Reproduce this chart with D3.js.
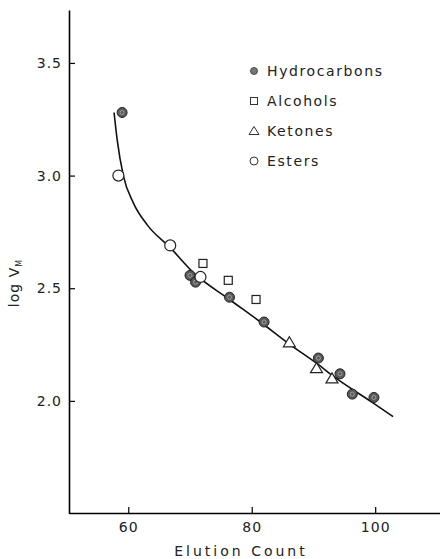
<!DOCTYPE html>
<html>
<head>
<meta charset="utf-8">
<script src="https://cdn.jsdelivr.net/npm/d3@7"></script>
<style>
  body { margin: 0; background: #fff; }
  text { font-family: "DejaVu Sans", sans-serif; fill: #222; }
</style>
</head>
<body>
<svg width="440" height="559"></svg>
<script>
// elution count, log V_M
let hydrocarbons = [[59.0, 3.28], [70.0, 2.557], [70.9, 2.527], [76.4, 2.46], [82.0, 2.35],
                    [90.8, 2.19], [94.3, 2.12], [96.3, 2.03], [99.8, 2.015]];
let alcohols = [[72.1, 2.61], [76.2, 2.535], [80.7, 2.45]];
let ketones = [[86.1, 2.26], [90.5, 2.145], [93.0, 2.10]];
let esters = [[58.4, 3.0], [66.8, 2.69], [71.7, 2.55]];
let fitCurve = [[57.7, 3.28], [58.2, 3.16], [59.2, 3.0], [60.8, 2.88], [63.1, 2.78], [66.8, 2.68],
                [70.5, 2.57], [76.4, 2.45], [81.4, 2.35], [86.2, 2.25], [90.6, 2.165],
                [93.2, 2.11], [99.7, 1.99], [102.9, 1.93]];
let xTicks = [60, 80, 100];
let yTicks = [2.0, 2.5, 3.0, 3.5];
let legendNames = ['Hydrocarbons', 'Alcohols', 'Ketones', 'Esters'];

var svg = d3.select('svg');

let x = d3.scaleLinear().domain([50.4, 110.5]).range([69, 440]);
let y = d3.scaleLinear().domain([1.5, 3.735]).range([513.5, 10]);

// axes
svg.append('g')
    .attr('transform', 'translate(0,513)')
    .call(d3.axisBottom(x).tickValues(xTicks).tickSizeInner(-6).tickSizeOuter(0).tickPadding(9))
    .call(g => g.select('.domain').attr('stroke-width', 1.6))
    .call(g => g.selectAll('.tick line').attr('stroke-width', 1.2))
    .call(g => g.selectAll('text').attr('font-size', 14).attr('letter-spacing', 1).style('fill', '#222'));

svg.append('g')
    .attr('transform', 'translate(69,0)')
    .call(d3.axisLeft(y).tickValues(yTicks).tickFormat(d3.format('.1f')).tickSizeInner(-6).tickSizeOuter(0).tickPadding(7))
    .call(g => g.select('.domain').attr('stroke-width', 1.6))
    .call(g => g.selectAll('.tick line').attr('stroke-width', 1.2))
    .call(g => g.selectAll('text').attr('font-size', 14).attr('letter-spacing', 1).style('fill', '#222'));

svg.append('text')
    .attr('x', 241).attr('y', 556)
    .attr('text-anchor', 'middle')
    .attr('font-size', 14)
    .attr('letter-spacing', 3)
    .text('Elution Count');

let yl = svg.append('text')
    .attr('transform', 'translate(19,283) rotate(-90)')
    .attr('text-anchor', 'middle')
    .attr('font-size', 14)
    .attr('letter-spacing', 1);
yl.append('tspan').text('log V');
yl.append('tspan').attr('font-size', 8).attr('dy', 3).text('M');

// fitted curve
svg.append('path')
    .datum(fitCurve)
    .attr('fill', 'none')
    .attr('stroke', '#111')
    .attr('stroke-width', 1.6)
    .attr('d', d3.line().x(d => x(d[0])).y(d => y(d[1])).curve(d3.curveMonotoneX));

// markers
function drawMarker(g, type, cx, cy) {
    if (type == 0) {
        g.append('circle').attr('cx', cx).attr('cy', cy).attr('r', 5)
            .attr('fill', '#5a5a5a').attr('stroke', '#222').attr('stroke-width', 1);
        g.append('circle').attr('cx', cx).attr('cy', cy).attr('r', 2)
            .attr('fill', 'none').attr('stroke', '#aaa').attr('stroke-width', 0.8);
    } else if (type == 1) {
        g.append('rect').attr('x', cx - 4).attr('y', cy - 4).attr('width', 8).attr('height', 8)
            .attr('fill', '#fff').attr('stroke', '#222').attr('stroke-width', 1.2);
    } else if (type == 2) {
        g.append('path')
            .attr('d', `M${cx},${cy - 5.5}L${cx + 6},${cy + 4.5}L${cx - 6},${cy + 4.5}Z`)
            .attr('fill', '#fff').attr('stroke', '#222').attr('stroke-width', 1.2);
    } else {
        g.append('circle').attr('cx', cx).attr('cy', cy).attr('r', 5.5)
            .attr('fill', '#fff').attr('stroke', '#222').attr('stroke-width', 1.2);
    }
}

let pts = svg.append('g');
[hydrocarbons, alcohols, ketones, esters].forEach(function (series, i) {
    series.forEach(d => drawMarker(pts, i, x(d[0]), y(d[1])));
});

// legend
let legend = svg.append('g');
legendNames.forEach(function (name, i) {
    let ly = 71 + i * 30;
    let g = legend.append('g');
    if (i == 0) {
        g.append('circle').attr('cx', 254).attr('cy', ly).attr('r', 3.5)
            .attr('fill', '#777').attr('stroke', '#333').attr('stroke-width', 0.8);
    } else if (i == 1) {
        g.append('rect').attr('x', 250.5).attr('y', ly - 3.5).attr('width', 7).attr('height', 7)
            .attr('fill', '#fff').attr('stroke', '#333').attr('stroke-width', 1);
    } else if (i == 2) {
        g.append('path').attr('d', `M254,${ly - 4.5}L259,${ly + 3.5}L249,${ly + 3.5}Z`)
            .attr('fill', '#fff').attr('stroke', '#333').attr('stroke-width', 1);
    } else {
        g.append('circle').attr('cx', 254).attr('cy', ly).attr('r', 4)
            .attr('fill', '#fff').attr('stroke', '#333').attr('stroke-width', 1);
    }
    g.append('text').attr('x', 267).attr('y', ly + 5)
        .attr('font-size', 14).attr('letter-spacing', 1.6)
        .text(name);
});
</script>
</body>
</html>
